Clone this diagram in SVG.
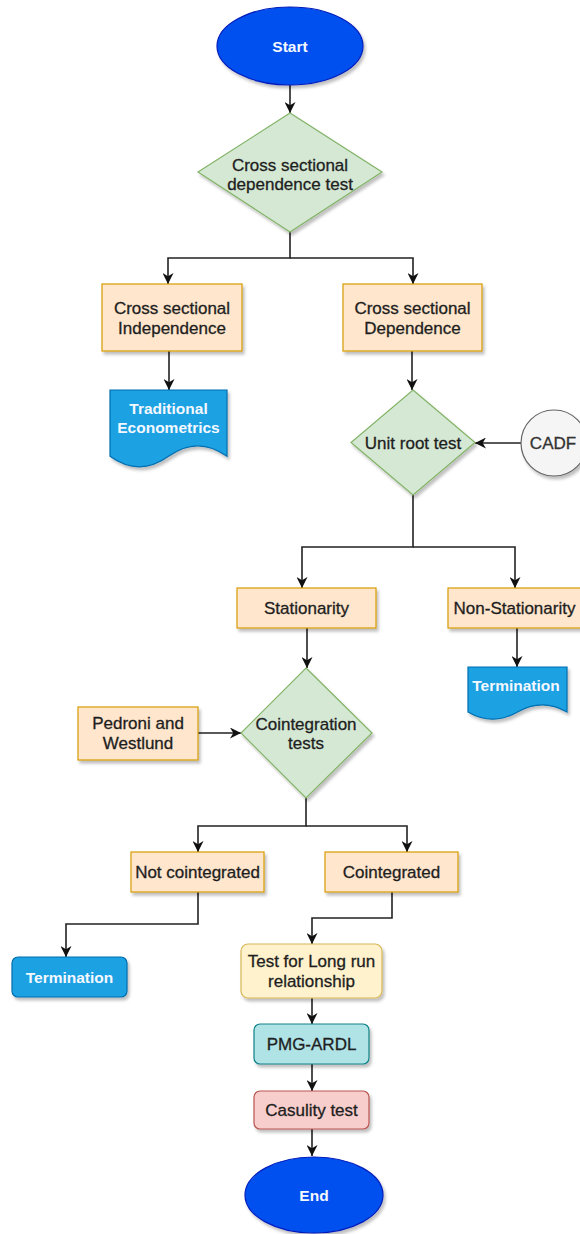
<svg xmlns="http://www.w3.org/2000/svg" width="580" height="1234" viewBox="0 0 580 1234">
<defs>
<filter id="sh" x="-20%" y="-20%" width="140%" height="150%">
<feDropShadow dx="2" dy="3" stdDeviation="1.8" flood-color="#000" flood-opacity="0.25"/>
</filter>
<marker id="arr" viewBox="0 0 10 10" refX="10" refY="5" markerWidth="11" markerHeight="11" markerUnits="userSpaceOnUse" orient="auto">
<path d="M0,0 L10,5 L0,10 L3,5 z" fill="#111"/>
</marker>
</defs>
<style>
.t{font-family:"Liberation Sans",Arial,sans-serif;font-size:17px;fill:#1e1e1e;stroke:#1e1e1e;stroke-width:0.3;text-anchor:middle}
.w{font-family:"Liberation Sans",Arial,sans-serif;font-size:15.5px;font-weight:bold;fill:#f4f8ff;text-anchor:middle}
.term{fill:#0050ef;stroke:#001dbc;stroke-width:1.2;filter:url(#sh)}
.dec{fill:#d5e8d4;stroke:#82b366;stroke-width:1.2;filter:url(#sh)}
.proc{fill:#ffe6cc;stroke:#d79b00;stroke-width:1.2;filter:url(#sh)}
.doc{fill:#1ba1e2;stroke:#006eaf;stroke-width:1.2;filter:url(#sh)}
.yel{fill:#fff2cc;stroke:#d6b656;stroke-width:1.2;filter:url(#sh)}
.teal{fill:#b0e3e6;stroke:#0e8088;stroke-width:1.2;filter:url(#sh)}
.red{fill:#f8cecc;stroke:#b85450;stroke-width:1.2;filter:url(#sh)}
.circ{fill:#f5f5f5;stroke:#666;stroke-width:1.2;filter:url(#sh)}
.c{fill:none;stroke:#222;stroke-width:1.6;marker-end:url(#arr)}
</style>
<rect width="580" height="1234" fill="#fff"/>
<g id="connectors">
<path class="c" d="M290,85 V113"/>
<path class="c" d="M290,232 V258 H168 V284"/>
<path class="c" d="M290,258 H413 V284"/>
<path class="c" d="M169,351 V390"/>
<path class="c" d="M412,351 V390"/>
<path class="c" d="M521,443 H475"/>
<path class="c" d="M413,495 V547 H302 V588"/>
<path class="c" d="M413,547 H515 V588"/>
<path class="c" d="M307,628 V668"/>
<path class="c" d="M517,628 V667"/>
<path class="c" d="M198,733 H241"/>
<path class="c" d="M306,798 V826 H198 V852"/>
<path class="c" d="M306,826 H407 V852"/>
<path class="c" d="M198,892 V924 H66 V957"/>
<path class="c" d="M392,892 V918 H312 V944"/>
<path class="c" d="M312,998 V1024"/>
<path class="c" d="M312,1064 V1091"/>
<path class="c" d="M312,1129 V1156"/>
</g>
<g id="start">
<ellipse class="term" cx="290" cy="46" rx="73" ry="39"/>
<text class="w" x="290" y="52" font-size="16">Start</text>
</g>
<g id="cs-test">
<polygon class="dec" points="290,113 382,172 290,232 198,172"/>
<text class="t" x="290" y="171">Cross sectional</text>
<text class="t" x="290" y="190">dependence test</text>
</g>
<g id="cs-independence">
<rect class="proc" x="102" y="284" width="140" height="67"/>
<text class="t" x="172" y="314">Cross sectional</text>
<text class="t" x="172" y="334">Independence</text>
</g>
<g id="cs-dependence">
<rect class="proc" x="343" y="284" width="139" height="67"/>
<text class="t" x="412.5" y="314">Cross sectional</text>
<text class="t" x="412.5" y="334">Dependence</text>
</g>
<g id="traditional">
<path class="doc" d="M110,390 H227 V456.3 Q197.75,435.24 168.5,456.3 Q139.25,477.36 110,456.3 Z"/>
<text class="w" x="168.5" y="414">Traditional</text>
<text class="w" x="168.5" y="433">Econometrics</text>
</g>
<g id="unit-root">
<polygon class="dec" points="413,390 475,442.5 413,495 351,442.5"/>
<text class="t" x="413" y="449">Unit root test</text>
</g>
<g id="cadf">
<circle class="circ" cx="554" cy="443" r="33"/>
<text class="t" x="553" y="449" style="fill:#333;stroke:#333">CADF</text>
</g>
<g id="stationarity">
<rect class="proc" x="237" y="588" width="139" height="40"/>
<text class="t" x="306.5" y="614">Stationarity</text>
</g>
<g id="non-stationarity">
<rect class="proc" x="448" y="588" width="134" height="40"/>
<text class="t" x="514.5" y="614">Non-Stationarity</text>
</g>
<g id="termination-right">
<path class="doc" d="M468,667 H567 V712.05 Q542.25,697.74 517.5,712.05 Q492.75,726.36 468,712.05 Z"/>
<text class="w" x="516" y="691">Termination</text>
</g>
<g id="pedroni">
<rect class="proc" x="78" y="707" width="120" height="53"/>
<text class="t" x="138" y="729">Pedroni and</text>
<text class="t" x="138" y="749">Westlund</text>
</g>
<g id="cointegration-tests">
<polygon class="dec" points="306,668 372,733 306,798 241,733"/>
<text class="t" x="306" y="730">Cointegration</text>
<text class="t" x="306" y="749">tests</text>
</g>
<g id="not-cointegrated">
<rect class="proc" x="131" y="852" width="133" height="40"/>
<text class="t" x="197.5" y="878">Not cointegrated</text>
</g>
<g id="cointegrated">
<rect class="proc" x="325" y="852" width="133" height="40"/>
<text class="t" x="391.5" y="878">Cointegrated</text>
</g>
<g id="termination-left">
<rect class="doc" x="12" y="957" width="115" height="40" rx="6"/>
<text class="w" x="69.5" y="983">Termination</text>
</g>
<g id="long-run">
<rect class="yel" x="241" y="944" width="141" height="54" rx="7"/>
<text class="t" x="311.5" y="967">Test for Long run</text>
<text class="t" x="311.5" y="987">relationship</text>
</g>
<g id="pmg-ardl">
<rect class="teal" x="254" y="1024" width="115" height="40" rx="6"/>
<text class="t" x="311.5" y="1050">PMG-ARDL</text>
</g>
<g id="causality">
<rect class="red" x="254" y="1091" width="115" height="38" rx="6"/>
<text class="t" x="311.5" y="1116">Casulity test</text>
</g>
<g id="end">
<ellipse class="term" cx="314" cy="1195" rx="69" ry="38"/>
<text class="w" x="314" y="1201" font-size="16">End</text>
</g>
</svg>
